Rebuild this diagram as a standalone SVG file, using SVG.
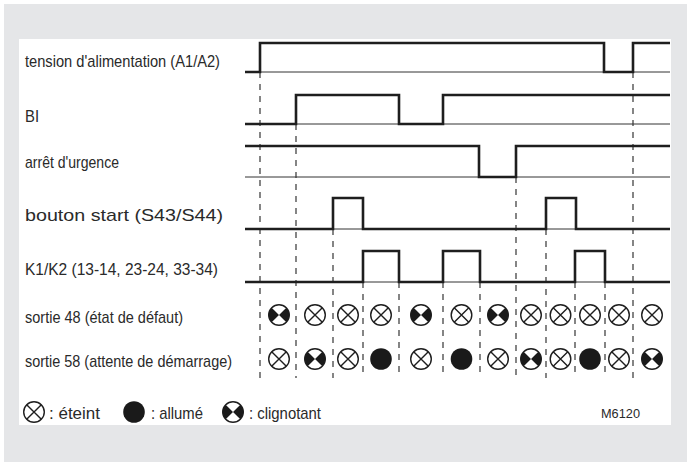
<svg xmlns="http://www.w3.org/2000/svg" xmlns:xlink="http://www.w3.org/1999/xlink" width="687" height="463" viewBox="0 0 687 463">
<style>
.lbl{font-family:"Liberation Sans",Arial,sans-serif;font-size:17px;fill:#2a2a2a}
.small{font-family:"Liberation Sans",Arial,sans-serif;font-size:13.5px;fill:#2a2a2a}
.base{stroke:#333;stroke-width:1;fill:none}
.sig{stroke:#1e1e1e;stroke-width:2.6;fill:none;stroke-linejoin:miter}
.dash{stroke:#444;stroke-width:1.3;stroke-dasharray:6 6;fill:none}
.ring{fill:#fff;stroke:#1e1e1e;stroke-width:1.4}
.x{stroke:#1e1e1e;stroke-width:1.4}
</style>
<defs>
<g id="off"><circle class="ring" r="10.3"/><path class="x" d="M-7.3,-7.3L7.3,7.3M-7.3,7.3L7.3,-7.3"/></g>
<g id="on"><circle r="10.8" fill="#1a1a1a"/></g>
<g id="blink"><circle class="ring" r="10.3"/><path fill="#1a1a1a" d="M0,0L-7.3,-7.3A10.3,10.3 0 0 0 -7.3,7.3ZM0,0L7.3,-7.3A10.3,10.3 0 0 1 7.3,7.3Z"/></g>
</defs>
<rect x="4" y="4" width="683" height="458" fill="#e5e6e8"/>
<rect x="19" y="39" width="652" height="386" fill="#fff"/>

<g id="connectors">
<path class="dash" d="M260,72V378M296,124V378M333,229V378M363,282V378M399,282V378M443,282V378M480,282V378M516,177V378M546,229V378M575,282V378M605,282V378M633,72V378"/>
</g>

<g id="row-tension">
<text class="lbl" x="25" y="67" textLength="195" lengthAdjust="spacingAndGlyphs">tension d'alimentation (A1/A2)</text>
<line class="base" x1="245" y1="72" x2="670" y2="72"/>
<path class="sig" d="M245,72H260V43H604V72H633V43H670"/>
</g>
<g id="row-bi">
<text class="lbl" x="25" y="122" textLength="14" lengthAdjust="spacingAndGlyphs">BI</text>
<line class="base" x1="245" y1="124" x2="670" y2="124"/>
<path class="sig" d="M245,124H296V95H399V124H443V95H670"/>
</g>
<g id="row-arret">
<text class="lbl" x="25" y="168" textLength="94" lengthAdjust="spacingAndGlyphs">arrêt d'urgence</text>
<line class="base" x1="245" y1="177" x2="670" y2="177"/>
<path class="sig" d="M245,146H479V177H516V146H670"/>
</g>
<g id="row-start">
<text class="lbl" x="25" y="221" textLength="198" lengthAdjust="spacingAndGlyphs">bouton start (S43/S44)</text>
<line class="base" x1="245" y1="229" x2="670" y2="229"/>
<path class="sig" d="M245,229H333V198H363V229H546V198H576V229H670"/>
</g>
<g id="row-k">
<text class="lbl" x="25" y="275" textLength="193" lengthAdjust="spacingAndGlyphs">K1/K2 (13-14, 23-24, 33-34)</text>
<line class="base" x1="245" y1="282" x2="670" y2="282"/>
<path class="sig" d="M245,282H363V251H399V282H443V251H480V282H575V251H605V282H670"/>
</g>
<g id="row-48">
<text class="lbl" x="25" y="323" textLength="158" lengthAdjust="spacingAndGlyphs">sortie 48 (état de défaut)</text>
<use xlink:href="#blink" x="279" y="315"/>
<use xlink:href="#off" x="315" y="315"/>
<use xlink:href="#off" x="348" y="315"/>
<use xlink:href="#off" x="381" y="315"/>
<use xlink:href="#blink" x="421" y="315"/>
<use xlink:href="#off" x="461.5" y="315"/>
<use xlink:href="#blink" x="498" y="315"/>
<use xlink:href="#off" x="531" y="315"/>
<use xlink:href="#off" x="560.5" y="315"/>
<use xlink:href="#off" x="590" y="315"/>
<use xlink:href="#off" x="619" y="315"/>
<use xlink:href="#off" x="652" y="315"/>
</g>
<g id="row-58">
<text class="lbl" x="25" y="367" textLength="207" lengthAdjust="spacingAndGlyphs">sortie 58 (attente de démarrage)</text>
<use xlink:href="#off" x="279" y="359"/>
<use xlink:href="#blink" x="315" y="359"/>
<use xlink:href="#off" x="348" y="359"/>
<use xlink:href="#on" x="381" y="359"/>
<use xlink:href="#off" x="421" y="359"/>
<use xlink:href="#on" x="461.5" y="359"/>
<use xlink:href="#off" x="498" y="359"/>
<use xlink:href="#blink" x="531" y="359"/>
<use xlink:href="#off" x="560.5" y="359"/>
<use xlink:href="#on" x="590" y="359"/>
<use xlink:href="#off" x="619" y="359"/>
<use xlink:href="#blink" x="652" y="359"/>
</g>
<g id="legend">
<use xlink:href="#off" x="34" y="412"/>
<text class="lbl" x="49" y="419" textLength="51" lengthAdjust="spacingAndGlyphs">:  éteint</text>
<use xlink:href="#on" x="134" y="412"/>
<text class="lbl" x="151" y="419" textLength="52" lengthAdjust="spacingAndGlyphs">: allumé</text>
<use xlink:href="#blink" x="233" y="412"/>
<text class="lbl" x="249" y="419" textLength="72" lengthAdjust="spacingAndGlyphs">: clignotant</text>
<text class="small" x="601" y="418" textLength="39" lengthAdjust="spacingAndGlyphs">M6120</text>
</g>
</svg>
